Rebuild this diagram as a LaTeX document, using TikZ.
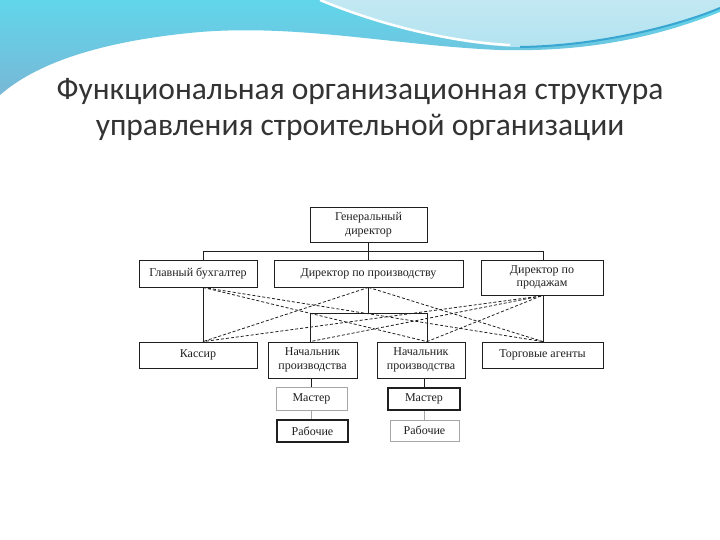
\documentclass[tikz,border=0pt]{standalone}
\usepackage{fontspec}
\setmainfont{Liberation Serif}
\newfontfamily\titlefont{Carlito}
\usetikzlibrary{positioning}
\definecolor{wavedark}{rgb}{0.47,0.72,0.84}
\definecolor{wavecyan}{rgb}{0.38,0.84,0.92}
\definecolor{wavelight}{rgb}{0.70,0.89,0.94}
\definecolor{waveline}{rgb}{0.22,0.65,0.82}
\definecolor{titlecol}{rgb}{0.2,0.2,0.2}
\definecolor{boxcol}{rgb}{0.12,0.12,0.12}
\tikzset{
  unit/.style={draw=boxcol,line width=0.8pt,inner sep=1pt,align=center,
    font=\fontsize{12}{13.5}\selectfont,text=boxcol},
  faint/.style={draw=gray!70},
  strong/.style={line width=1.3pt},
  link/.style={draw=boxcol,line width=0.8pt},
  funclink/.style={draw=boxcol,line width=0.8pt,dash pattern=on 3pt off 2pt},
}
\begin{document}
\begin{tikzpicture}[x=1pt,y=-1pt]
\useasboundingbox (0,0) rectangle (720,540);
%%
% Background waves
\shade[left color=wavecyan,right color=wavedark,shading angle=0]
  (0,0) -- (720,0) -- (720,12) .. controls (650,40) and (580,52) .. (500,50)
  .. controls (400,46) and (300,24) .. (200,32) .. controls (110,40) and (40,60) .. (0,95) -- cycle;
\shade[top color=wavelight!80!white,bottom color=wavelight]
  (320,0) .. controls (380,25) and (450,44) .. (515,47)
  .. controls (600,46) and (680,25) .. (720,8) -- (720,0) -- cycle;
\draw[white,line width=2.5pt] (320,0) .. controls (380,25) and (450,42) .. (510,45);
\draw[waveline,line width=2pt] (520,47) .. controls (600,46) and (680,25) .. (720,8);
%%
% Title
\node[font=\titlefont\fontsize{31.5}{36}\selectfont,text=titlecol,align=center] (title) at (360,110)
  {Функциональная организационная структура\\управления строительной организации};
%%
% Node: head
\node[unit,minimum width=117pt,minimum height=35pt] (gd) at (368.5,224.5) {Генеральный\\директор};
% Node: functional heads
\node[unit,minimum width=118pt,minimum height=27pt] (gb) at (198,273.5) {Главный бухгалтер};
\node[unit,minimum width=189pt,minimum height=27pt] (dp) at (368.5,273.5) {Директор по производству};
\node[unit,minimum width=122pt,minimum height=35pt] (dpp) at (542,277.5) {Директор по\\продажам};
% Node: subordinates
\node[unit,minimum width=118pt,minimum height=26pt] (kas) at (198,355) {Кассир};
\node[unit,minimum width=89pt,minimum height=36pt] (np1) at (312.5,360) {Начальник\\производства};
\node[unit,minimum width=88pt,minimum height=36pt] (np2) at (421,360) {Начальник\\производства};
\node[unit,minimum width=121pt,minimum height=26pt] (ta) at (542.5,355) {Торговые агенты};
% Node: masters and workers
\node[unit,faint,minimum width=71pt,minimum height=23pt] (m1) at (311.5,398.5) {Мастер};
\node[unit,strong,minimum width=71pt,minimum height=22pt] (r1) at (312.5,431) {Рабочие};
\node[unit,strong,minimum width=72pt,minimum height=22pt] (m2) at (424,399) {Мастер};
\node[unit,faint,minimum width=69pt,minimum height=21pt] (r2) at (424.5,430.5) {Рабочие};
%%
% Edge: head -> functional heads
\coordinate (busW) at (203,251);
\coordinate (busE) at (543,251);
\coordinate (busP) at (310,313);
\coordinate (busQ) at (427,313);
\draw[link] (busW) -- (busE);
\draw[link] (gd.south -| dp) -- (dp.north);
\draw[link] (busW) -- (busW |- gb.north);
\draw[link] (busE) -- (busE |- dpp.north);
% Edge: functional heads -> subordinates
\draw[link] (busW |- gb.south) -- (busW |- kas.north);
\draw[link] (dp.south) -- (dp |- busP);
\draw[link] (busP |- np1.north) -- (busP) -- (busQ) -- (busQ |- np2.north);
\draw[link] (busE |- dpp.south) -- (busE |- ta.north);
% Edge: production chains
\draw[link] (np1.south -| m1) -- (m1.north);
\draw[link,gray!70] (m1.south) -- (m1.south |- r1.north);
\draw[link] (np2.south -| m2) -- (m2.north);
\draw[link,gray!70] (m2.south) -- (m2.south |- r2.north);
%%
% Edge: functional links
\coordinate (gbS) at (busW |- gb.south);
\coordinate (dpS) at (dp.south);
\coordinate (dppS) at (541,296);
\draw[funclink] (gbS) -- (busQ |- np2.north);
\draw[funclink] (gbS) -- (busE |- ta.north);
\draw[funclink] (dpS) -- (busW |- kas.north);
\draw[funclink] (dpS) -- (busE |- ta.north);
\draw[funclink] (dppS) -- (busW |- kas.north);
\draw[funclink] (dppS) -- (busP |- np1.north);
\draw[funclink] (dppS) -- (busQ |- np2.north);
%
\end{tikzpicture}
\end{document}
